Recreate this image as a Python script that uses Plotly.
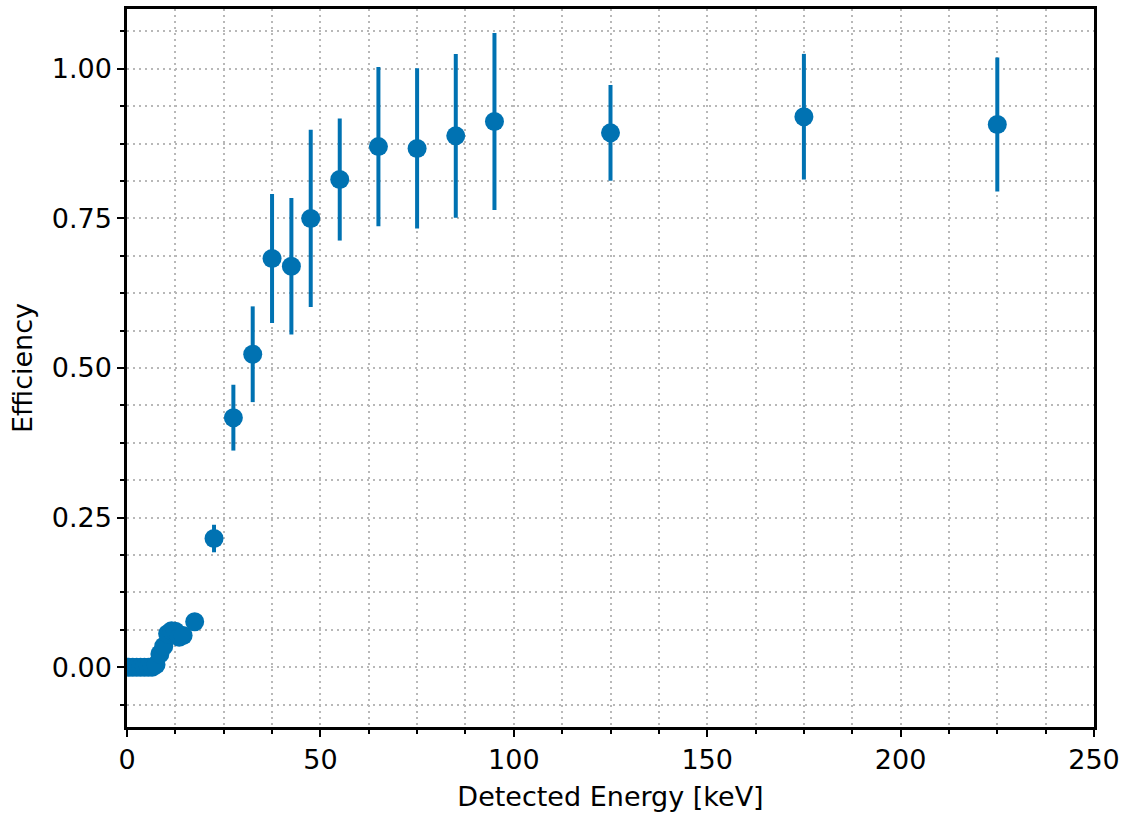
import plotly.graph_objects as go

# Bin centres of detected energy [keV]
energy = [0.5, 1.5, 2.5, 3.5, 4.5, 5.5, 6.5, 7.5, 8.5, 9.5, 10.5, 11.5, 12.5, 13.5, 14.5,
          17.5, 22.5, 27.5, 32.5, 37.5, 42.5, 47.5,
          55, 65, 75, 85, 95, 125, 175, 225]

# Measured detection efficiency per bin
efficiency = [0.0, 0.0, 0.0, 0.0, 0.0, 0.0, 0.0, 0.004, 0.022, 0.035, 0.056, 0.061, 0.060, 0.050, 0.053,
              0.076, 0.215, 0.417, 0.523, 0.683, 0.670, 0.750,
              0.815, 0.870, 0.867, 0.888, 0.912, 0.893, 0.920, 0.907]

# Symmetric statistical uncertainty on each efficiency
uncertainty = [0.0, 0.0, 0.0, 0.0, 0.0, 0.0, 0.0, 0.003, 0.006, 0.007, 0.008, 0.008, 0.008, 0.008, 0.008,
               0.010, 0.023, 0.055, 0.080, 0.108, 0.114, 0.148,
               0.102, 0.133, 0.134, 0.137, 0.148, 0.080, 0.105, 0.112]

x_ticks = [0, 50, 100, 150, 200, 250]
y_ticks = [0.0, 0.25, 0.5, 0.75, 1.0]

blue = "#0072B2"
font_family = "DejaVu Sans"
grid_color = "#b8b8b8"
grid_dash = "2px,4px"

fig = go.Figure(
    go.Scatter(
        x=energy,
        y=efficiency,
        mode="markers",
        marker=dict(size=19, color=blue, line=dict(width=0)),
        error_y=dict(type="data", array=uncertainty, visible=True,
                     thickness=4, width=0, color=blue),
        showlegend=False,
    )
)

axis_common = dict(
    showgrid=True,
    gridcolor=grid_color,
    griddash=grid_dash,
    gridwidth=2,
    showline=True,
    linecolor="black",
    linewidth=2.5,
    mirror=True,
    ticks="outside",
    ticklen=7,
    tickwidth=2,
    tickcolor="black",
    zeroline=False,
    tickfont=dict(family=font_family, size=27, color="black"),
)

minor_common = dict(ticks="outside", ticklen=4, tickwidth=1.5, tickcolor="black",
                    showgrid=True, gridcolor=grid_color, griddash=grid_dash, gridwidth=2)

fig.update_xaxes(
    range=[0, 250],
    tickvals=x_ticks,
    ticktext=[str(v) for v in x_ticks],
    minor=dict(dtick=12.5, tick0=0, **minor_common),
    title=dict(text="Detected Energy [keV]", standoff=13,
               font=dict(family=font_family, size=27, color="black")),
    **axis_common,
)

fig.update_yaxes(
    range=[-0.1, 1.1],
    tickvals=y_ticks,
    ticktext=[f"{v:.2f}" for v in y_ticks],
    minor=dict(dtick=0.0625, tick0=0, **minor_common),
    title=dict(text="Efficiency", standoff=12,
               font=dict(family=font_family, size=27, color="black")),
    **axis_common,
)

fig.update_layout(
    width=1126,
    height=814,
    margin=dict(l=127, r=32, t=6, b=87),
    paper_bgcolor="white",
    plot_bgcolor="white",
    font=dict(family=font_family, color="black"),
)

fig.write_html("out.html")
